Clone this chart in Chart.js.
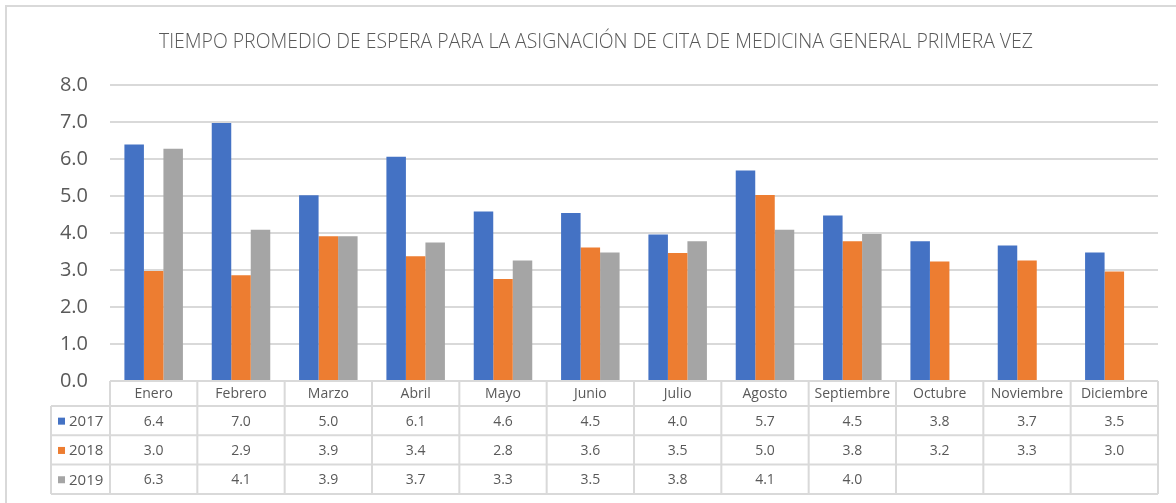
<!DOCTYPE html>
<html>
<head>
<meta charset="utf-8">
<script src="https://cdn.jsdelivr.net/npm/chart.js@4.4.1/dist/chart.umd.min.js"></script>
<style>
  html, body { margin: 0; padding: 0; background: #ffffff; }
  #wrap { position: relative; width: 1176px; height: 503px; }
</style>
</head>
<body>
<div id="wrap"><canvas id="c" width="1176" height="503"></canvas></div>
<script>
const titleText = "TIEMPO PROMEDIO DE ESPERA PARA LA ASIGNACIÓN DE CITA DE MEDICINA GENERAL PRIMERA VEZ";
const months = ["Enero", "Febrero", "Marzo", "Abril", "Mayo", "Junio", "Julio", "Agosto", "Septiembre", "Octubre", "Noviembre", "Diciembre"];
const seriesNames = ["2017", "2018", "2019"];
const values2017 = [6.39, 6.97, 5.02, 6.06, 4.58, 4.54, 3.96, 5.69, 4.47, 3.78, 3.66, 3.47];
const values2018 = [2.97, 2.86, 3.91, 3.37, 2.76, 3.61, 3.46, 5.03, 3.78, 3.23, 3.26, 2.96];
const values2019 = [6.28, 4.09, 3.91, 3.74, 3.26, 3.47, 3.78, 4.09, 3.97, null, null, null];
const yTicks = [0, 1, 2, 3, 4, 5, 6, 7, 8];
const colors = ["#4472C4", "#ED7D31", "#A5A5A5"];

const FONT = "'Open Sans', 'Liberation Sans', sans-serif";
const TEXT = "#595959";
const LINE = "#d9d9d9";

const tablePlugin = {
  id: 'dataTable',
  afterDraw(chart) {
    const ctx = chart.ctx;
    const xs = chart.scales.x;
    const area = chart.chartArea;
    const n = months.length;
    const colW = (area.right - area.left) / n;
    const top = area.bottom;
    const headerH = 25;
    const rowH = 29.3;
    const legLeft = 51;
    const rowsTop = top + headerH;
    const bottom = rowsTop + rowH * 3;

    ctx.save();
    // title
    ctx.fillStyle = TEXT;
    ctx.textAlign = 'center';
    ctx.textBaseline = 'middle';
    ctx.font = "300 19.4px " + FONT;
    ctx.fillText(titleText, 596, 42);

    ctx.strokeStyle = LINE;
    ctx.lineWidth = 2;
    ctx.beginPath();
    ctx.moveTo(area.left, top); ctx.lineTo(area.right, top);
    for (let r = 0; r <= 3; r++) {
      const y = rowsTop + r * rowH;
      ctx.moveTo(legLeft, y); ctx.lineTo(area.right, y);
    }
    ctx.moveTo(legLeft, rowsTop); ctx.lineTo(legLeft, bottom);
    for (let i = 0; i <= n; i++) {
      const x = area.left + i * colW;
      ctx.moveTo(x, top); ctx.lineTo(x, bottom);
    }
    ctx.stroke();

    const cellFont = "14px " + FONT;
    ctx.fillStyle = TEXT;
    ctx.textAlign = 'center';
    ctx.textBaseline = 'middle';
    ctx.font = cellFont;
    months.forEach((m, i) => {
      ctx.fillText(m, xs.getPixelForValue(i), top + headerH / 2 + 1);
    });
    const all = [values2017, values2018, values2019];
    all.forEach((vals, r) => {
      const yc = rowsTop + r * rowH + rowH / 2 + 1;
      ctx.textAlign = 'center';
      ctx.font = cellFont;
      vals.forEach((v, i) => {
        if (v === null || v === undefined) return;
        ctx.fillText(v.toFixed(1), xs.getPixelForValue(i), yc);
      });
      ctx.fillStyle = colors[r];
      ctx.fillRect(58, yc - 4, 7, 7);
      ctx.fillStyle = TEXT;
      ctx.textAlign = 'left';
      ctx.font = "15px " + FONT;
      ctx.fillText(seriesNames[r], 69, yc);
    });

    ctx.strokeStyle = LINE;
    ctx.lineWidth = 2;
    ctx.strokeRect(6, 6, 1200, 600);
    ctx.restore();
  }
};

new Chart(document.getElementById('c'), {
  type: 'bar',
  data: {
    labels: months,
    datasets: [
      { label: seriesNames[0], data: values2017, backgroundColor: colors[0] },
      { label: seriesNames[1], data: values2018, backgroundColor: colors[1] },
      { label: seriesNames[2], data: values2019, backgroundColor: colors[2] }
    ]
  },
  options: {
    responsive: false,
    animation: false,
    devicePixelRatio: 1,
    layout: { padding: { left: 0, right: 18, top: 85, bottom: 122 } },
    datasets: { bar: { categoryPercentage: 0.67, barPercentage: 1.0 } },
    plugins: {
      legend: { display: false },
      tooltip: { enabled: false },
      title: { display: false }
    },
    scales: {
      x: { display: false },
      y: {
        min: 0, max: 8,
        afterFit(s) { s.width = 110; },
        afterBuildTicks(s) { s.ticks = yTicks.map(v => ({ value: v })); },
        border: { display: false },
        grid: { color: LINE, lineWidth: 2, drawTicks: false },
        ticks: {
          padding: 22,
          color: TEXT,
          font: { family: FONT, size: 20 },
          callback: (v) => Number(v).toFixed(1)
        }
      }
    }
  },
  plugins: [tablePlugin]
});
</script>
</body>
</html>
